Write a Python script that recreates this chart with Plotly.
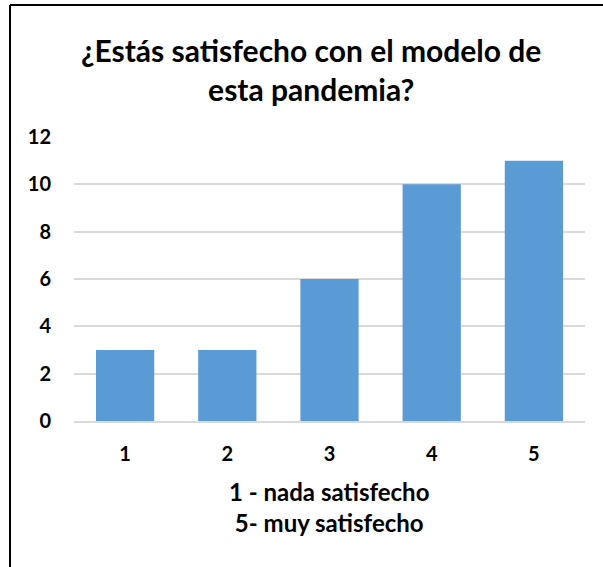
import plotly.graph_objects as go

categories = ["1", "2", "3", "4", "5"]
values = [3, 3, 6, 10, 11]
y_ticks = [0, 2, 4, 6, 8, 10, 12]

title_text = "¿Estás satisfecho con el modelo de<br>esta pandemia?"
x_title = "1 - nada satisfecho<br>5- muy satisfecho"

W, H = 603, 567
L, R, T, B = 74, 18, 137, 146
PW, PH = W - L - R, H - T - B
FONT = "Lato"


def px_x(px):
    return (px - L) / PW


def px_y(py):
    return (H - B - py) / PH


fig = go.Figure(go.Bar(x=categories, y=values, marker=dict(color="#5B9BD5", line=dict(width=0)),
                       width=0.57))

fig.update_layout(
    width=W, height=H,
    margin=dict(l=L, r=R, t=T, b=B, pad=0),
    paper_bgcolor="white", plot_bgcolor="white",
    font=dict(family=FONT, color="black"),
    showlegend=False,
)
fig.update_yaxes(range=[0, 12], tickvals=y_ticks, ticktext=[f"<b>{v}</b>" for v in y_ticks],
                 showgrid=True, gridcolor="#D9D9D9", gridwidth=1.5, zeroline=False,
                 showline=False, ticks="", ticklabelstandoff=22,
                 tickfont=dict(size=20, family=FONT, color="black", weight="bold"))
fig.update_xaxes(tickvals=categories, ticktext=[f"<b>{c}</b>" for c in categories],
                 showline=True, linecolor="#D9D9D9", linewidth=2, ticks="",
                 ticklabelstandoff=14, tickfont=dict(size=20, family=FONT, color="black", weight="bold"))

# chart title
fig.add_annotation(text="<b>" + title_text + "</b>", xref="paper", yref="paper",
                   x=px_x(311), y=px_y(69), xanchor="center", yanchor="middle",
                   showarrow=False, font=dict(size=30, family=FONT, color="black"))
# x axis title
fig.add_annotation(text="<b>" + x_title + "</b>", xref="paper", yref="paper",
                   x=px_x(329), y=px_y(507), xanchor="center", yanchor="middle",
                   showarrow=False, font=dict(size=24, family=FONT, color="black"))

# outer chart border (left and top edges visible)
fig.add_shape(type="line", xref="paper", yref="paper", x0=px_x(10), x1=px_x(10),
              y0=px_y(H + 5), y1=px_y(5), line=dict(color="black", width=2))
fig.add_shape(type="line", xref="paper", yref="paper", x0=px_x(10), x1=px_x(W + 10),
              y0=px_y(5), y1=px_y(5), line=dict(color="black", width=2))

fig.write_html("out.html")
